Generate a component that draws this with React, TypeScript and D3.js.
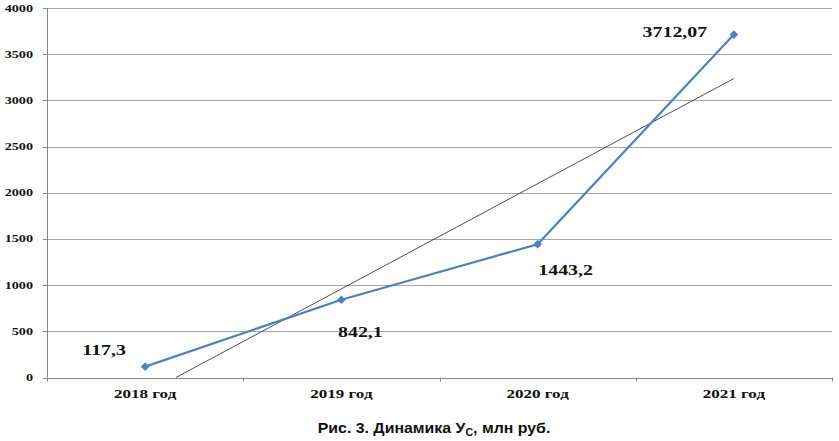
import React from "react";
import * as d3 from "d3";

const categories = ["2018 год", "2019 год", "2020 год", "2021 год"];
const values = [117.3, 842.1, 1443.2, 3712.07];
const valueLabels = ["117,3", "842,1", "1443,2", "3712,07"];
const yTicks = [0, 500, 1000, 1500, 2000, 2500, 3000, 3500, 4000];
// label offsets relative to the point (layout, not data)
const labelDx = [-41, 19, 28, -59];
const labelDy = [-12, 37, 31, 2];

const W = 839;
const H = 441;
const M = { left: 47, right: 832, top: 8, bottom: 377.5 };
const SX = 1.42;

function SText(props: {
  x: number;
  y: number;
  anchor: string;
  size: number;
  children: React.ReactNode;
}) {
  return (
    <g transform={`translate(${props.x},${props.y}) scale(${SX},1)`}>
      <text
        x={0}
        y={0}
        textAnchor={props.anchor as any}
        fontFamily="'Liberation Serif', 'Times New Roman', serif"
        fontWeight="bold"
        fontSize={props.size}
        fill="#111"
      >
        {props.children}
      </text>
    </g>
  );
}

export default function App() {
  const x = d3
    .scaleBand<string>()
    .domain(categories)
    .range([M.left, M.right])
    .paddingInner(0)
    .paddingOuter(0);
  const y = d3.scaleLinear().domain([0, 4000]).range([M.bottom, M.top]);
  const cx = (i: number) => (x(categories[i]) as number) + x.bandwidth() / 2;

  const line = d3
    .line<number>()
    .x((_, i) => cx(i))
    .y((d) => y(d));

  // linear trend (least squares) over category index 1..n
  const n = values.length;
  const xs = values.map((_, i) => i + 1);
  const mx = d3.mean(xs) as number;
  const my = d3.mean(values) as number;
  const slope =
    d3.sum(xs.map((xi, i) => (xi - mx) * (values[i] - my))) /
    d3.sum(xs.map((xi) => (xi - mx) * (xi - mx)));
  const intercept = my - slope * mx;
  const idxToX = d3
    .scaleLinear()
    .domain([1, n])
    .range([cx(0), cx(n - 1)]);
  const t0 = Math.max(1, -intercept / slope);
  const t1 = n;

  const bounds = [M.left, ...categories.map((c) => (x(c) as number) + x.bandwidth())];
  const marker = d3.symbol().type(d3.symbolSquare).size(26)();

  return (
    <div style={{ position: "fixed", left: 0, top: 0 }}>
      <svg width={W} height={H} style={{ display: "block", background: "#fff" }}>
        <rect x={0} y={0} width={W} height={H} fill="#fff" />
        {yTicks.map((t) => (
          <g key={t}>
            {t > 0 && (
              <line
                x1={M.left}
                x2={M.right}
                y1={Math.round(y(t)) + 0.5}
                y2={Math.round(y(t)) + 0.5}
                stroke="#a6a6a6"
                strokeWidth={1}
              />
            )}
            <line
              x1={M.left - 4}
              x2={M.left}
              y1={Math.round(y(t)) + 0.5}
              y2={Math.round(y(t)) + 0.5}
              stroke="#868686"
            />
            <SText x={33} y={y(t) + 3.5} anchor="end" size={10}>
              {t}
            </SText>
          </g>
        ))}
        <line
          x1={M.left + 0.5}
          x2={M.left + 0.5}
          y1={M.top}
          y2={M.bottom}
          stroke="#868686"
        />
        <line
          x1={M.left}
          x2={M.right}
          y1={Math.round(M.bottom) + 0.5}
          y2={Math.round(M.bottom) + 0.5}
          stroke="#868686"
        />
        {bounds.map((b, i) => (
          <line
            key={i}
            x1={Math.round(b) + 0.5}
            x2={Math.round(b) + 0.5}
            y1={M.bottom}
            y2={M.bottom + 4}
            stroke="#868686"
          />
        ))}
        {categories.map((c, i) => (
          <SText key={c} x={cx(i)} y={398} anchor="middle" size={12}>
            {c}
          </SText>
        ))}
        <line
          x1={idxToX(t0)}
          y1={y(intercept + slope * t0)}
          x2={idxToX(t1)}
          y2={y(intercept + slope * t1)}
          stroke="#3a3a3a"
          strokeWidth={0.9}
        />
        <path d={line(values) as string} fill="none" stroke="#4F81BD" strokeWidth={2.2} />
        {values.map((v, i) => (
          <path
            key={i}
            d={marker as string}
            transform={`translate(${cx(i)},${y(v)}) rotate(45)`}
            fill="#4F81BD"
            stroke="#4F81BD"
          />
        ))}
        {values.map((v, i) => (
          <SText
            key={"l" + i}
            x={cx(i) + labelDx[i]}
            y={y(v) + labelDy[i]}
            anchor="middle"
            size={14}
          >
            {valueLabels[i]}
          </SText>
        ))}
        <g transform="translate(434,433) scale(1.06,1)">
          <text
            x={0}
            y={0}
            textAnchor="middle"
            fontFamily="'Liberation Sans', Arial, sans-serif"
            fontWeight="bold"
            fontSize={15}
            fill="#111"
          >
            Рис. 3. Динамика У
            <tspan fontSize={10} dy={3}>
              С
            </tspan>
            <tspan dy={-3}>, млн руб.</tspan>
          </text>
        </g>
      </svg>
    </div>
  );
}
